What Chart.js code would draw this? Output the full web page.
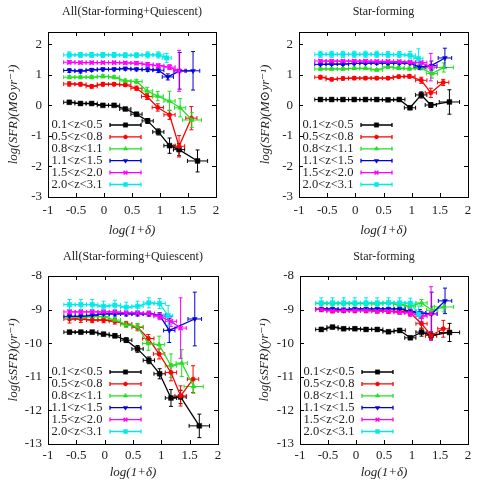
<!DOCTYPE html>
<html>
<head>
<meta charset="utf-8">
<script src="https://cdn.jsdelivr.net/npm/chart.js@4/dist/chart.umd.min.js"></script>
<style>
  body { margin: 0; background: #fff; }
  #wrap { position: relative; width: 480px; height: 484px; }
  canvas { position: absolute; }
</style>
</head>
<body>
<div id="wrap">
  <canvas id="sfrAllChart" width="240" height="242" style="left:0;top:0"></canvas>
  <canvas id="sfrSFChart" width="240" height="242" style="left:240px;top:0"></canvas>
  <canvas id="ssfrAllChart" width="240" height="242" style="left:0;top:242px"></canvas>
  <canvas id="ssfrSFChart" width="240" height="242" style="left:240px;top:242px"></canvas>
</div>
<script>
const zLabels = ['0.1<z<0.5', '0.5<z<0.8', '0.8<z<1.1', '1.1<z<1.5', '1.5<z<2.0', '2.0<z<3.1'];

const xTicks = [-1, -0.5, 0, 0.5, 1, 1.5, 2];
const sfrTicks = [-3, -2, -1, 0, 1, 2];
const ssfrTicks = [-13, -12, -11, -10, -9, -8];

// log(1+delta) bin centres, one row per redshift bin
const xBins = [
  [-0.62, -0.42, -0.22, -0.02, 0.18, 0.38, 0.58, 0.78, 0.97, 1.17, 1.34, 1.67],
  [-0.62, -0.42, -0.22, -0.02, 0.18, 0.38, 0.58, 0.77, 0.96, 1.17, 1.34, 1.56],
  [-0.62, -0.42, -0.22, -0.02, 0.18, 0.38, 0.58, 0.77, 0.96, 1.17, 1.36, 1.57],
  [-0.62, -0.42, -0.22, -0.02, 0.18, 0.38, 0.58, 0.78, 0.97, 1.14, 1.35, 1.59],
  [-0.62, -0.42, -0.22, -0.02, 0.18, 0.38, 0.58, 0.78, 0.97, 1.17, 1.34],
  [-0.62, -0.42, -0.22, -0.02, 0.18, 0.38, 0.58, 0.78, 0.97, 1.12]
];
const xErrs = [
  [0.1, 0.1, 0.1, 0.1, 0.1, 0.1, 0.1, 0.1, 0.1, 0.1, 0.1, 0.18],
  [0.1, 0.1, 0.1, 0.1, 0.1, 0.1, 0.1, 0.1, 0.1, 0.1, 0.1, 0.1],
  [0.1, 0.1, 0.1, 0.1, 0.1, 0.1, 0.1, 0.1, 0.1, 0.1, 0.1, 0.17],
  [0.1, 0.1, 0.1, 0.1, 0.1, 0.1, 0.1, 0.1, 0.1, 0.1, 0.1, 0.12],
  [0.1, 0.1, 0.1, 0.1, 0.1, 0.1, 0.1, 0.1, 0.1, 0.1, 0.1],
  [0.1, 0.1, 0.1, 0.1, 0.1, 0.1, 0.1, 0.1, 0.1, 0.08]
];

// log(SFR), all galaxies
const sfrAll = [
  [0.10, 0.06, 0.06, 0.0, 0.0, -0.12, -0.29, -0.51, -0.87, -1.32, -1.45, -1.82],
  [0.70, 0.69, 0.62, 0.69, 0.69, 0.67, 0.56, 0.29, -0.07, -0.31, -1.34, -0.42],
  [0.92, 0.92, 0.92, 0.95, 0.92, 0.80, 0.78, 0.47, 0.30, 0.14, -0.08, -0.48],
  [1.14, 1.12, 1.16, 1.18, 1.18, 1.20, 1.18, 1.17, 1.15, 0.93, 1.13, 1.13],
  [1.41, 1.40, 1.40, 1.40, 1.40, 1.39, 1.38, 1.34, 1.30, 1.25, 1.13],
  [1.65, 1.65, 1.65, 1.65, 1.65, 1.64, 1.64, 1.65, 1.65, 1.55]
];
const sfrAllErr = [
  [0.05, 0.05, 0.04, 0.04, 0.04, 0.05, 0.06, 0.08, 0.1, 0.25, 0.2, 0.36],
  [0.07, 0.06, 0.06, 0.06, 0.05, 0.05, 0.07, 0.1, 0.12, 0.15, 0.35, 0.38],
  [0.05, 0.05, 0.05, 0.05, 0.05, 0.06, 0.07, 0.12, 0.15, 0.32, 0.3, 0.25],
  [0.06, 0.06, 0.05, 0.05, 0.05, 0.05, 0.05, 0.06, 0.08, 0.1, 0.6, 0.63],
  [0.05, 0.04, 0.04, 0.04, 0.04, 0.04, 0.05, 0.06, 0.06, 0.08, 0.67],
  [0.1, 0.08, 0.08, 0.08, 0.08, 0.08, 0.08, 0.1, 0.1, 0.15]
];

// log(SFR), star-forming
const sfrSF = [
  [0.19, 0.19, 0.19, 0.19, 0.19, 0.19, 0.18, 0.19, -0.08, 0.34, 0.01, 0.11],
  [0.92, 0.85, 0.88, 0.89, 0.89, 0.89, 0.89, 0.94, 0.95, 0.82, 0.41, 0.75],
  [1.19, 1.19, 1.19, 1.21, 1.21, 1.16, 1.26, 1.22, 1.20, 1.22, 1.04, 1.24],
  [1.34, 1.35, 1.35, 1.37, 1.38, 1.38, 1.38, 1.38, 1.38, 1.25, 1.30, 1.55],
  [1.45, 1.45, 1.45, 1.45, 1.45, 1.44, 1.44, 1.43, 1.41, 1.40, 1.25],
  [1.67, 1.67, 1.67, 1.67, 1.67, 1.67, 1.66, 1.66, 1.64, 1.53]
];
const sfrSFErr = [
  [0.03, 0.03, 0.03, 0.03, 0.03, 0.03, 0.03, 0.04, 0.06, 0.1, 0.08, 0.4],
  [0.06, 0.05, 0.05, 0.05, 0.05, 0.05, 0.05, 0.05, 0.06, 0.1, 0.15, 0.1],
  [0.04, 0.04, 0.04, 0.04, 0.04, 0.04, 0.05, 0.05, 0.05, 0.06, 0.15, 0.15],
  [0.04, 0.04, 0.04, 0.04, 0.04, 0.04, 0.04, 0.05, 0.05, 0.08, 0.15, 0.32],
  [0.04, 0.04, 0.04, 0.04, 0.04, 0.04, 0.04, 0.05, 0.05, 0.05, 0.45],
  [0.1, 0.1, 0.1, 0.1, 0.1, 0.1, 0.1, 0.1, 0.12, 0.32]
];

// log(sSFR), all galaxies
const ssfrAll = [
  [-9.67, -9.67, -9.67, -9.73, -9.78, -9.91, -10.17, -10.51, -10.91, -11.63, -11.6, -12.46],
  [-9.28, -9.28, -9.31, -9.31, -9.35, -9.43, -9.53, -9.86, -10.32, -10.87, -11.57, -11.07],
  [-9.23, -9.23, -9.21, -9.21, -9.31, -9.45, -9.51, -10.01, -10.04, -10.67, -10.59, -11.29],
  [-9.2, -9.2, -9.17, -9.13, -9.13, -9.13, -9.13, -9.13, -9.17, -9.62, null, -9.28],
  [-9.07, -9.07, -9.07, -9.07, -9.07, -9.1, -9.1, -9.12, -9.2, -9.35, -9.55],
  [-8.85, -8.85, -8.85, -8.9, -8.87, -8.93, -8.9, -8.8, -8.82, -9.18]
];
const ssfrAllErr = [
  [0.05, 0.05, 0.05, 0.05, 0.06, 0.07, 0.1, 0.1, 0.15, 0.25, 0.2, 0.35],
  [0.12, 0.1, 0.08, 0.08, 0.08, 0.08, 0.1, 0.12, 0.15, 0.25, 0.3, 0.4],
  [0.06, 0.06, 0.06, 0.06, 0.07, 0.08, 0.1, 0.2, 0.25, 0.35, 0.4, 0.2],
  [0.06, 0.06, 0.06, 0.06, 0.06, 0.06, 0.06, 0.06, 0.08, 0.36, 0, 0.8],
  [0.06, 0.06, 0.06, 0.06, 0.06, 0.06, 0.06, 0.08, 0.1, 0.15, 0.9],
  [0.15, 0.15, 0.15, 0.15, 0.15, 0.15, 0.15, 0.15, 0.15, 0.3]
];

// log(sSFR), star-forming
const ssfrSF = [
  [-9.59, -9.52, -9.57, -9.57, -9.59, -9.59, -9.66, -9.62, -9.84, -9.67, -9.77, -9.68],
  [-9.0, -9.03, -9.03, -9.03, -9.03, -9.03, -9.05, -9.05, -9.08, -9.42, -9.77, -9.57],
  [-8.82, -8.82, -8.82, -8.82, -8.82, -8.83, -8.8, -8.85, -8.9, -8.8, -9.02, -8.92],
  [-8.98, -8.98, -9.0, -8.98, -8.98, -8.98, -8.98, -8.98, -9.05, -9.1, -9.13, -8.74],
  [-9.0, -9.04, -9.03, -9.03, -9.03, -9.05, -9.05, -9.08, -9.1, -9.2, -9.12],
  [-8.8, -8.8, -8.8, -8.8, -8.8, -8.8, -8.8, -8.8, -8.81, -9.14]
];
const ssfrSFErr = [
  [0.06, 0.05, 0.05, 0.05, 0.05, 0.05, 0.05, 0.06, 0.05, 0.12, 0.1, 0.27],
  [0.06, 0.06, 0.06, 0.06, 0.06, 0.06, 0.06, 0.06, 0.1, 0.15, 0.12, 0.25],
  [0.05, 0.05, 0.05, 0.05, 0.05, 0.05, 0.05, 0.05, 0.06, 0.1, 0.12, 0.15],
  [0.05, 0.05, 0.05, 0.05, 0.05, 0.05, 0.05, 0.05, 0.06, 0.1, 0.65, 0.38],
  [0.06, 0.06, 0.06, 0.06, 0.06, 0.06, 0.06, 0.06, 0.1, 0.15, 0.8],
  [0.15, 0.15, 0.15, 0.15, 0.15, 0.15, 0.15, 0.15, 0.15, 0.25]
];

// styling per redshift bin (gnuplot-like)
const zColors = ['#000000', '#ff0000', '#22e022', '#0000d8', '#ff00ff', '#00eaea'];
const zMarkers = ['rect', 'circle', 'triangle', 'triangle', 'crossRot', 'rect'];
const zRotation = [0, 0, 0, 180, 0, 0];
const zRadius = [3.4, 2.2, 2.8, 2.8, 3, 3.1];

const SERIF = '"Liberation Serif", "DejaVu Serif", serif';
const TEXT = '#222';

function makeDatasets(vals, errs) {
  return vals.map((row, i) => ({
    label: zLabels[i],
    data: row.map((v, j) => ({ x: xBins[i][j], y: v })),
    yErr: errs[i],
    xErr: xErrs[i],
    borderColor: zColors[i],
    backgroundColor: zColors[i],
    pointBackgroundColor: zColors[i],
    pointBorderColor: zColors[i],
    pointStyle: zMarkers[i],
    pointRotation: zRotation[i],
    pointRadius: zRadius[i],
    pointBorderWidth: zMarkers[i] === 'crossRot' ? 1.5 : 0.5,
    borderWidth: 1.3,
    fill: false,
    tension: 0,
    spanGaps: true,
    order: 5 - i
  }));
}

// xy error bars drawn through the chart scales
const errorBars = {
  id: 'errorBars',
  beforeDatasetsDraw(chart) {
    const { ctx, scales: { x, y } } = chart;
    ctx.save();
    ctx.lineWidth = 1;
    chart.data.datasets.forEach(ds => {
      ctx.strokeStyle = ds.borderColor;
      ds.data.forEach((p, j) => {
        if (p.y === null) return;
        const px = x.getPixelForValue(p.x);
        const py = y.getPixelForValue(p.y);
        const y0 = y.getPixelForValue(p.y - ds.yErr[j]);
        const y1 = y.getPixelForValue(p.y + ds.yErr[j]);
        const x0 = x.getPixelForValue(p.x - ds.xErr[j]);
        const x1 = x.getPixelForValue(p.x + ds.xErr[j]);
        ctx.beginPath();
        ctx.moveTo(px, y0); ctx.lineTo(px, y1);
        ctx.moveTo(x0, py); ctx.lineTo(x1, py);
        ctx.moveTo(px - 2, y0); ctx.lineTo(px + 2, y0);
        ctx.moveTo(px - 2, y1); ctx.lineTo(px + 2, y1);
        ctx.moveTo(x0, py - 2); ctx.lineTo(x0, py + 2);
        ctx.moveTo(x1, py - 2); ctx.lineTo(x1, py + 2);
        ctx.stroke();
      });
    });
    ctx.restore();
  }
};

// box frame with inward mirrored ticks
const frameTicks = {
  id: 'frameTicks',
  afterDatasetsDraw(chart) {
    const { ctx, chartArea: a, scales: { x, y } } = chart;
    const len = 4;
    ctx.save();
    ctx.strokeStyle = '#000';
    ctx.lineWidth = 1;
    ctx.beginPath();
    x.ticks.forEach(t => {
      const px = Math.round(x.getPixelForValue(t.value)) + 0.5;
      ctx.moveTo(px, a.bottom); ctx.lineTo(px, a.bottom - len);
      ctx.moveTo(px, a.top); ctx.lineTo(px, a.top + len);
    });
    y.ticks.forEach(t => {
      const py = Math.round(y.getPixelForValue(t.value)) + 0.5;
      ctx.moveTo(a.left, py); ctx.lineTo(a.left + len, py);
      ctx.moveTo(a.right, py); ctx.lineTo(a.right - len, py);
    });
    ctx.stroke();
    ctx.strokeRect(Math.round(a.left) + 0.5, Math.round(a.top) + 0.5,
      Math.round(a.right - a.left), Math.round(a.bottom - a.top));
    ctx.restore();
  }
};

// gnuplot-style key in the lower left of the plot
const zLegend = {
  id: 'zLegend',
  afterDraw(chart) {
    const { ctx, chartArea: a } = chart;
    const n = chart.data.datasets.length;
    ctx.save();
    ctx.font = '12.5px ' + SERIF;
    ctx.textBaseline = 'middle';
    ctx.textAlign = 'left';
    chart.data.datasets.forEach((ds, i) => {
      const ry = a.bottom - 12.5 - (n - 1 - i) * 11.9;
      ctx.fillStyle = TEXT;
      ctx.fillText(ds.label, a.left + 3.5, ry);
      const sx0 = a.left + 62, sx1 = a.left + 93;
      ctx.strokeStyle = ds.borderColor;
      ctx.lineWidth = 1.3;
      ctx.beginPath();
      ctx.moveTo(sx0, ry); ctx.lineTo(sx1, ry);
      ctx.moveTo(sx0, ry - 2); ctx.lineTo(sx0, ry + 2);
      ctx.moveTo(sx1, ry - 2); ctx.lineTo(sx1, ry + 2);
      ctx.stroke();
      ctx.fillStyle = ds.pointBackgroundColor;
      ctx.lineWidth = ds.pointBorderWidth;
      if (Chart.helpers && Chart.helpers.drawPoint) {
        Chart.helpers.drawPoint(ctx, {
          pointStyle: ds.pointStyle, rotation: ds.pointRotation,
          radius: ds.pointRadius * 0.9, borderWidth: ds.pointBorderWidth
        }, (sx0 + sx1) / 2, ry);
      } else {
        ctx.fillRect((sx0 + sx1) / 2 - 2, ry - 2, 4, 4);
      }
    });
    ctx.restore();
  }
};

const panels = [
  { id: 'sfrAllChart', title: 'All(Star-forming+Quiescent)', yTitle: 'log(SFR)(M\u2299yr\u207B\u00B9)',
    vals: sfrAll, errs: sfrAllErr, yTicks: sfrTicks, yMin: -3, yMax: 2.4,
    box: { left: 48, right: 216, top: 32, bottom: 197 }, titleY: 11.7, yTitleX: 13.3, xTitleY: 226.7, xPad: 6 },
  { id: 'sfrSFChart', title: 'Star-forming', yTitle: 'log(SFR)(M\u2299yr\u207B\u00B9)',
    vals: sfrSF, errs: sfrSFErr, yTicks: sfrTicks, yMin: -3, yMax: 2.4,
    box: { left: 59, right: 228, top: 32, bottom: 197 }, titleY: 11.7, yTitleX: 25.5, xTitleY: 226.7, xPad: 6 },
  { id: 'ssfrAllChart', title: 'All(Star-forming+Quiescent)', yTitle: 'log(sSFR)(yr\u207B\u00B9)',
    vals: ssfrAll, errs: ssfrAllErr, yTicks: ssfrTicks, yMin: -13, yMax: -8,
    box: { left: 48, right: 218, top: 34, bottom: 202 }, titleY: 15, yTitleX: 13.3, xTitleY: 230, xPad: 4 },
  { id: 'ssfrSFChart', title: 'Star-forming', yTitle: 'log(sSFR)(yr\u207B\u00B9)',
    vals: ssfrSF, errs: ssfrSFErr, yTicks: ssfrTicks, yMin: -13, yMax: -8,
    box: { left: 60, right: 228, top: 34, bottom: 202 }, titleY: 15, yTitleX: 24.5, xTitleY: 230, xPad: 4 }
];

function buildChart(p) {
  const W = 240, H = 242, padBottom = 4;
  const tickFont = { family: SERIF, size: 13 };
  const axisTitleFont = { family: SERIF, size: 13, style: 'italic' };
  return new Chart(document.getElementById(p.id), {
    type: 'line',
    data: { datasets: makeDatasets(p.vals, p.errs) },
    options: {
      responsive: false,
      animation: false,
      events: [],
      layout: { padding: { left: 0, right: W - p.box.right, top: 0, bottom: padBottom } },
      plugins: {
        legend: { display: false },
        tooltip: { enabled: false },
        title: {
          display: true, text: p.title, fullSize: false, color: TEXT,
          font: { family: SERIF, size: 12, weight: 'normal', lineHeight: 1.2 },
          padding: { top: p.titleY - 7.2, bottom: p.box.top - p.titleY - 7.2 }
        }
      },
      scales: {
        x: {
          type: 'linear', min: -1, max: 2,
          afterBuildTicks: s => { s.ticks = xTicks.map(v => ({ value: v })); },
          afterFit: s => { s.height = H - padBottom - p.box.bottom; },
          grid: { display: false, drawTicks: false },
          border: { display: false },
          ticks: { padding: p.xPad, color: TEXT, font: tickFont, autoSkip: false, maxRotation: 0,
            callback: v => String(v) },
          title: { display: true, text: 'log(1+\u03B4)', color: TEXT, font: axisTitleFont,
            padding: { top: H - padBottom - 7.8 - p.xTitleY, bottom: 0 } }
        },
        y: {
          type: 'linear', min: p.yMin, max: p.yMax,
          afterBuildTicks: s => { s.ticks = p.yTicks.map(v => ({ value: v })); },
          afterFit: s => { s.width = p.box.left; },
          grid: { display: false, drawTicks: false },
          border: { display: false },
          ticks: { padding: 6, color: TEXT, font: tickFont, autoSkip: false,
            callback: v => String(v) },
          title: { display: true, text: p.yTitle, color: TEXT, font: axisTitleFont,
            padding: { top: p.yTitleX - 7.8, bottom: 0 } }
        }
      }
    },
    plugins: [errorBars, frameTicks, zLegend]
  });
}

window.charts = panels.map(buildChart);
</script>
</body>
</html>
